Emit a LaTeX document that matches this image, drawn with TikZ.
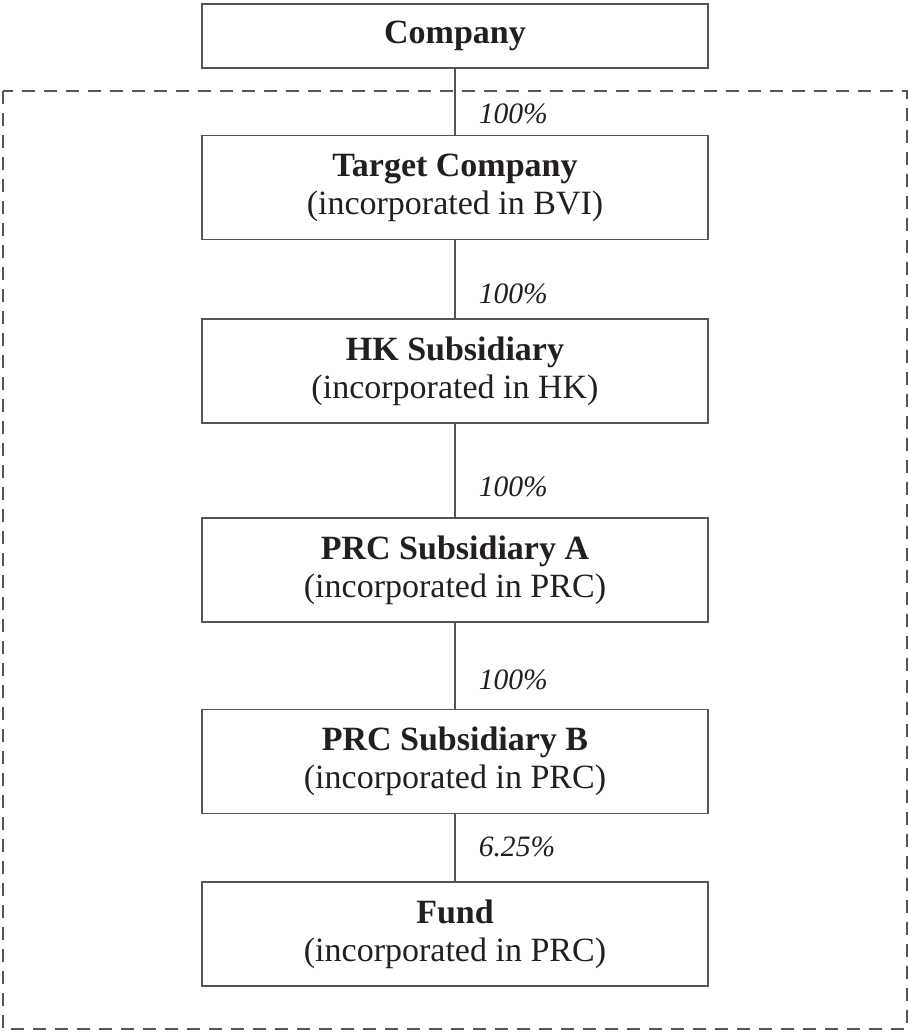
\documentclass[tikz,border=0pt]{standalone}
\usepackage{fontspec}
\setmainfont{Liberation Serif}
\usepackage{tikz}
\usetikzlibrary{positioning}
\usepackage{xcolor}
\definecolor{ChartText}{HTML}{231F20}
\definecolor{ChartLine}{HTML}{555555}
\begin{document}
\begin{tikzpicture}[x=0.5pt, y=-0.5pt,
    entity/.style={draw=ChartLine, line width=0.75pt, minimum width=253pt, minimum height=52pt,
        inner sep=0pt, align=center, text=ChartText, font=\fontsize{17}{19}\selectfont},
    holding/.style={draw=ChartLine, line width=0.75pt},
    share/.style={anchor=west, inner sep=0pt, xshift=11.5pt, text=ChartText,
        font=\fontsize{14.8}{16}\selectfont\itshape}]
                \useasboundingbox (0,0) rectangle (909,1033);

                % Group boundary
                \draw[ChartLine, line width=0.75pt, dash pattern=on 6.5pt off 4.5pt] (3,91) rectangle (907,1029);

                % Entities
                \node[entity, minimum height=32pt] (company) at (455,36) {\textbf{Company}};
                \node[entity] (target) at (455,187.5) {\textbf{Target Company}\\(incorporated in BVI)};
                \node[entity] (hksub) at (455,371) {\textbf{HK Subsidiary}\\(incorporated in HK)};
                \node[entity] (prca) at (455,570) {\textbf{PRC Subsidiary A}\\(incorporated in PRC)};
                \node[entity] (prcb) at (455,761.5) {\textbf{PRC Subsidiary B}\\(incorporated in PRC)};
                \node[entity] (fund) at (455,934) {\textbf{Fund}\\(incorporated in PRC)};

                % Shareholdings
                \draw[holding] (company) -- node[share, pos=0.69] {100\%} (target);
                \draw[holding] (target) -- node[share, pos=0.69] {100\%} (hksub);
                \draw[holding] (hksub) -- node[share, pos=0.67] {100\%} (prca);
                \draw[holding] (prca) -- node[share, pos=0.66] {100\%} (prcb);
                \draw[holding] (prcb) -- node[share, pos=0.49] {6.25\%} (fund);
\end{tikzpicture}
\end{document}
